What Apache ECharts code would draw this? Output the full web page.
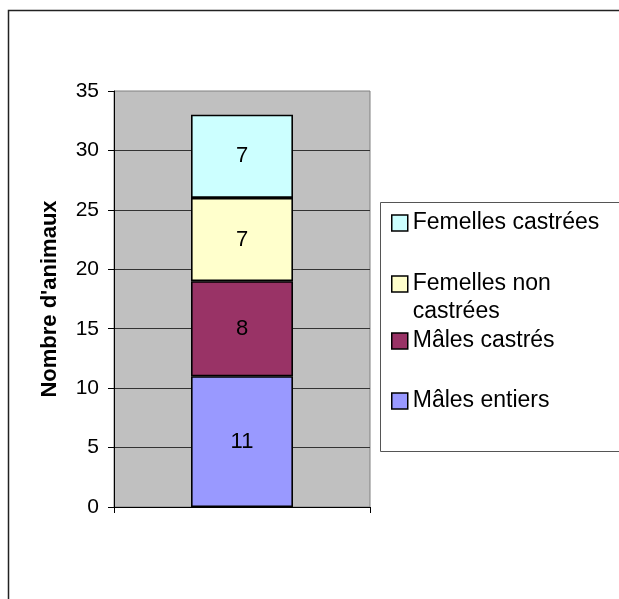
<!DOCTYPE html>
<html>
<head>
<meta charset="utf-8">
<script src="https://cdn.jsdelivr.net/npm/echarts@6/dist/echarts.min.js"></script>
<style>
  html, body { margin: 0; padding: 0; background: #fff; }
  #chart { width: 619px; height: 599px; }
</style>
</head>
<body>
<div id="chart"></div>
<script>
// Animal counts by sex and neuter status, stacked in one column
const categories = [''];
const seriesNames = ['Mâles entiers', 'Mâles castrés', 'Femelles non castrées', 'Femelles castrées'];
const seriesColors = ['#9999FF', '#993366', '#FFFFCC', '#CCFFFF'];
const maleIntact = [11];
const maleNeutered = [8];
const femaleIntact = [7];
const femaleNeutered = [7];
const yTicks = [0, 5, 10, 15, 20, 25, 30, 35];

const values = [maleIntact, maleNeutered, femaleIntact, femaleNeutered];
const FONT = 'Liberation Sans, Arial, sans-serif';

const chart = echarts.init(document.getElementById('chart'), null, { renderer: 'canvas' });

const series = seriesNames.map((name, i) => ({
  name: name,
  type: 'bar',
  stack: 'total',
  barWidth: 102,
  data: values[i],
  itemStyle: { color: seriesColors[i], borderColor: '#000', borderWidth: 1.6 },
  label: {
    show: true,
    position: 'inside',
    color: '#000',
    fontFamily: FONT,
    fontSize: 22
  },
  emphasis: { disabled: true }
}));

// One legend block per entry, listed top-down from the top of the stack.
// The two-line entry gets a leading blank line so its first line sits beside the swatch.
const legendEntries = [
  { name: 'Femelles castrées', top: 209, text: 'Femelles castrées' },
  { name: 'Femelles non castrées', top: 242, text: '\nFemelles non\ncastrées' },
  { name: 'Mâles castrés', top: 327, text: 'Mâles castrés' },
  { name: 'Mâles entiers', top: 387, text: 'Mâles entiers' }
];
const legends = legendEntries.map(e => ({
  data: [e.name],
  left: 391,
  top: e.top,
  padding: 0,
  itemWidth: 16,
  itemHeight: 16,
  icon: 'rect',
  selectedMode: false,
  formatter: () => e.text,
  itemStyle: { borderColor: '#000', borderWidth: 1.5 },
  textStyle: {
    fontFamily: FONT,
    fontSize: 23,
    color: '#000',
    lineHeight: 28
  }
}));

chart.setOption({
  animation: false,
  backgroundColor: '#fff',
  textStyle: { fontFamily: FONT },
  graphic: [
    {
      type: 'rect',
      shape: { x: 8.5, y: 10.5, width: 700, height: 700 },
      style: { fill: 'none', stroke: '#222', lineWidth: 1.5 },
      silent: true
    },
    {
      type: 'rect',
      shape: { x: 380.5, y: 202.5, width: 300, height: 249 },
      style: { fill: '#fff', stroke: '#555', lineWidth: 1 },
      silent: true
    }
  ],
  legend: legends,
  grid: {
    left: 114,
    top: 91,
    width: 256,
    height: 416,
    show: true,
    backgroundColor: '#C0C0C0',
    borderColor: '#808080',
    borderWidth: 1
  },
  xAxis: {
    type: 'category',
    data: categories,
    axisLine: { show: true, lineStyle: { color: '#000', width: 1 } },
    axisTick: { show: true, length: 6, inside: false, lineStyle: { color: '#000' } },
    axisLabel: { show: false }
  },
  yAxis: {
    type: 'value',
    min: yTicks[0],
    max: yTicks[yTicks.length - 1],
    interval: 5,
    name: "Nombre d'animaux",
    nameLocation: 'middle',
    nameRotate: 90,
    nameGap: 53,
    nameTextStyle: { fontFamily: FONT, fontSize: 22, fontWeight: 'bold', color: '#000' },
    axisLine: { show: true, lineStyle: { color: '#000', width: 1 } },
    axisTick: { show: true, length: 6, inside: false, lineStyle: { color: '#000' } },
    axisLabel: {
      fontFamily: FONT,
      fontSize: 21,
      color: '#000',
      margin: 15,
      formatter: v => (yTicks.indexOf(v) >= 0 ? String(v) : '')
    },
    splitLine: {
      show: true,
      showMinLine: false,
      showMaxLine: false,
      lineStyle: { color: '#333', width: 1 }
    }
  },
  series: series
});
</script>
</body>
</html>
